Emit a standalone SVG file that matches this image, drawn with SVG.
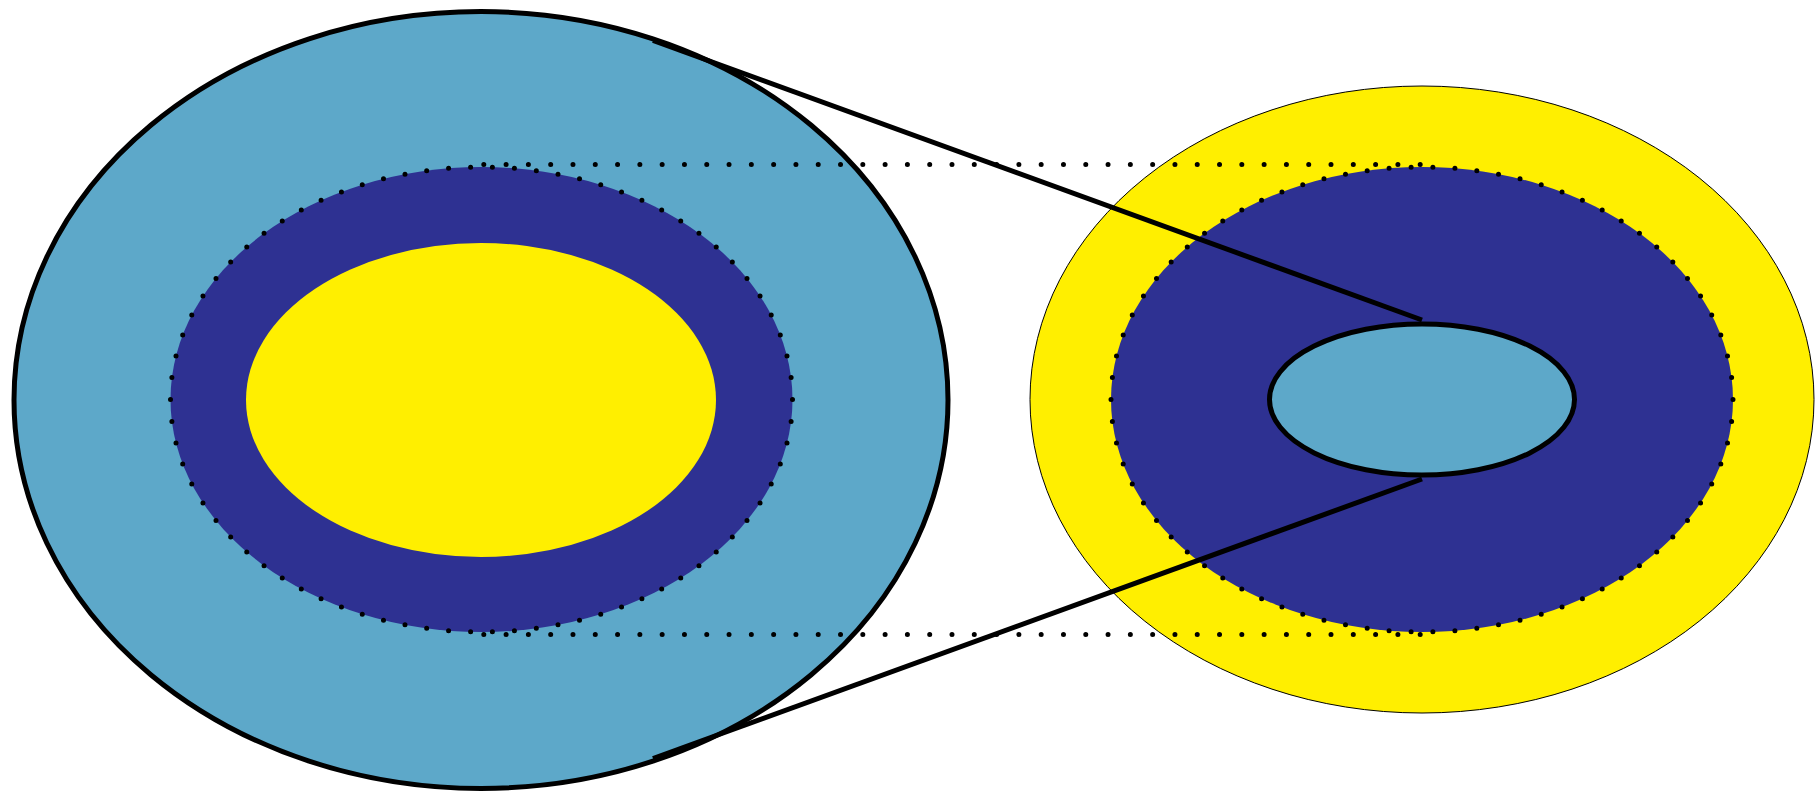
<svg xmlns="http://www.w3.org/2000/svg" width="1816" height="792" viewBox="0 0 1816 792">
  <style>
    .lb { fill: #5DA8C9; }
    .db { fill: #2E3192; }
    .ye { fill: #FFEF00; }
    .dots { fill: none; stroke: #000; stroke-width: 5; stroke-linecap: round; stroke-dasharray: 0 1; }
    .hdots { fill: none; stroke: #000; stroke-width: 5; stroke-linecap: round; stroke-dasharray: 0 22.295; }
    .line { fill: none; stroke: #000; stroke-width: 5; stroke-linecap: butt; }
  </style>
  <rect width="1816" height="792" fill="#fff"/>
  <g id="left-outer">
    <ellipse class="lb" cx="481" cy="400" rx="467" ry="388.5" stroke="#000" stroke-width="5"/>
  </g>
  <g id="left-middle">
    <ellipse class="db" cx="481.5" cy="399.5" rx="311" ry="232.5"/>
    <ellipse class="dots" cx="481.5" cy="399.5" rx="311" ry="232.5" pathLength="78"/>
  </g>
  <g id="left-inner">
    <ellipse class="ye" cx="481" cy="400" rx="235" ry="157"/>
  </g>
  <g id="right-outer">
    <ellipse class="ye" cx="1422" cy="399.5" rx="392" ry="313.5" stroke="#000" stroke-width="1"/>
  </g>
  <g id="right-middle">
    <ellipse class="db" cx="1422" cy="399.5" rx="311" ry="232.5"/>
    <ellipse class="dots" cx="1422" cy="399.5" rx="311" ry="232.5" pathLength="78"/>
  </g>
  <g id="right-inner">
    <ellipse class="lb" cx="1422" cy="399.5" rx="152.5" ry="75.5" stroke="#000" stroke-width="5"/>
  </g>
  <g id="connectors">
    <line class="hdots" x1="483.8" y1="164.5" x2="1420.2" y2="164.5"/>
    <line class="hdots" x1="483.8" y1="634.5" x2="1420.2" y2="634.5"/>
    <line class="line" x1="653" y1="40.5" x2="1422" y2="320"/>
    <line class="line" x1="653" y1="758.5" x2="1422" y2="479"/>
  </g>
</svg>
